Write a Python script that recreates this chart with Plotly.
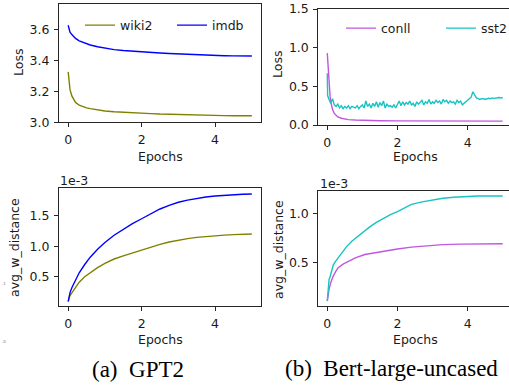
import plotly.graph_objects as go

# ---------------- data ----------------
gpt_loss_epochs = [0, 0.02, 0.05, 0.1, 0.15, 0.2, 0.3, 0.4, 0.5, 0.6, 0.8, 1.0, 1.25, 1.5, 1.75,
                   2.0, 2.25, 2.5, 2.75, 3.0, 3.25, 3.5, 3.75, 4.0, 4.25, 4.5, 4.75, 5.0]
wiki2_loss = [3.325, 3.26, 3.21, 3.17, 3.145, 3.128, 3.11, 3.100, 3.093, 3.088, 3.079, 3.073, 3.068,
              3.064, 3.061, 3.058, 3.056, 3.053, 3.051, 3.049, 3.047, 3.046, 3.044, 3.042, 3.043,
              3.042, 3.041, 3.042]
imdb_loss = [3.625, 3.60, 3.58, 3.565, 3.552, 3.54, 3.525, 3.515, 3.505, 3.498, 3.487, 3.477, 3.468,
             3.462, 3.457, 3.452, 3.448, 3.446, 3.443, 3.440, 3.438, 3.436, 3.433, 3.430, 3.429,
             3.428, 3.428, 3.427]

gpt_dist_epochs = [0, 0.02, 0.05, 0.1, 0.2, 0.3, 0.45, 0.6, 0.8, 1.0, 1.25, 1.5, 1.75, 2.0, 2.25,
                   2.5, 2.75, 3.0, 3.25, 3.5, 3.75, 4.0, 4.25, 4.5, 4.75, 5.0]
imdb_dist_e3 = [0.09, 0.17, 0.24, 0.32, 0.45, 0.565, 0.70, 0.82, 0.95, 1.06, 1.18, 1.28, 1.37, 1.45,
                1.53, 1.61, 1.67, 1.72, 1.755, 1.785, 1.807, 1.823, 1.836, 1.846, 1.852, 1.856]
wiki2_dist_e3 = [0.10, 0.15, 0.19, 0.235, 0.33, 0.41, 0.50, 0.57, 0.65, 0.72, 0.79, 0.84, 0.89, 0.94,
                 0.985, 1.03, 1.068, 1.10, 1.125, 1.145, 1.16, 1.17, 1.182, 1.19, 1.196, 1.20]

conll_loss_epochs = [0, 0.02, 0.05, 0.08, 0.1, 0.125, 0.15, 0.2, 0.25, 0.3, 0.4, 0.5, 0.6, 0.8, 1.0,
                     1.5, 2.0, 2.5, 3.0, 3.5, 4.0, 4.5, 5.0]
conll_loss = [0.93, 0.75, 0.52, 0.37, 0.30, 0.24, 0.20, 0.15, 0.12, 0.105, 0.087, 0.077, 0.07, 0.064,
              0.06, 0.055, 0.053, 0.052, 0.051, 0.051, 0.05, 0.05, 0.05]

sst2_loss_epochs = [0, 0.01] + [round(0.05 * i, 2) for i in range(1, 101)]
sst2_loss = [0.67, 0.38,
             0.33, 0.28, 0.34, 0.26, 0.24, 0.27, 0.22, 0.25, 0.21, 0.24,
             0.22, 0.25, 0.21, 0.24, 0.23, 0.22, 0.25, 0.21, 0.24, 0.26,
             0.22, 0.31, 0.24, 0.27, 0.22, 0.28, 0.24, 0.30, 0.23, 0.29,
             0.25, 0.31, 0.22, 0.27, 0.24, 0.25, 0.23, 0.26, 0.22, 0.27,
             0.31, 0.25, 0.30, 0.26, 0.29, 0.27, 0.31, 0.26, 0.28, 0.24,
             0.30, 0.27, 0.29, 0.32, 0.26, 0.30, 0.28, 0.33, 0.27, 0.30,
             0.28, 0.32, 0.29, 0.31, 0.27, 0.33, 0.30, 0.32, 0.28, 0.31,
             0.29, 0.30, 0.27, 0.32, 0.29, 0.31, 0.26, 0.28, 0.30, 0.31,
             0.33, 0.36, 0.43, 0.39, 0.35, 0.34, 0.33, 0.34, 0.34, 0.33,
             0.34, 0.345, 0.34, 0.35, 0.345, 0.35, 0.35, 0.355, 0.35, 0.355]

sst2_dist_epochs = [0, 0.02, 0.05, 0.08, 0.125, 0.17, 0.22, 0.3, 0.41, 0.55, 0.7, 0.85, 1.0, 1.2, 1.4,
                    1.6, 1.8, 2.0, 2.2, 2.4, 2.7, 3.0, 3.3, 3.6, 4.0, 4.3, 4.6, 5.0]
sst2_dist_e3 = [0.10, 0.22, 0.32, 0.35, 0.41, 0.47, 0.50, 0.54, 0.60, 0.66, 0.715, 0.76, 0.81, 0.86,
                0.91, 0.95, 0.99, 1.02, 1.06, 1.095, 1.12, 1.14, 1.157, 1.168, 1.177, 1.18, 1.18, 1.18]
conll_dist_epochs = [0, 0.02, 0.05, 0.1, 0.17, 0.25, 0.31, 0.45, 0.6, 0.8, 1.07, 1.4, 1.74, 2.0, 2.4,
                     2.8, 3.3, 3.8, 4.26, 4.6, 5.0]
conll_dist_e3 = [0.10, 0.16, 0.22, 0.29, 0.357, 0.41, 0.443, 0.48, 0.51, 0.545, 0.579, 0.60, 0.619,
                 0.635, 0.655, 0.668, 0.68, 0.686, 0.69, 0.69, 0.69]

x_ticks = [0, 2, 4]
gpt_loss_ticks = [3.0, 3.2, 3.4, 3.6]
bert_loss_ticks = [0.0, 0.5, 1.0, 1.5]
gpt_dist_ticks = [0.5, 1.0, 1.5]
bert_dist_ticks = [0.5, 1.0]

# ---------------- style ----------------
W, H = 509, 386
OLIVE = "#808000"
BLUE = "#0000ff"
VIOLET = "#c256e0"
CYAN = "#17c3c3"
AX = "#262626"
FONT = "DejaVu Sans"
FS = 12.5
LW = 1.4


def px_x(p):
    return p / W


def px_y(p):
    return 1 - p / H


fig = go.Figure()

fig.add_trace(go.Scatter(x=gpt_loss_epochs, y=wiki2_loss, name="wiki2", mode="lines",
                         line=dict(color=OLIVE, width=LW), xaxis="x", yaxis="y", legend="legend"))
fig.add_trace(go.Scatter(x=gpt_loss_epochs, y=imdb_loss, name="imdb", mode="lines",
                         line=dict(color=BLUE, width=LW), xaxis="x", yaxis="y", legend="legend"))
fig.add_trace(go.Scatter(x=conll_loss_epochs, y=conll_loss, name="conll", mode="lines",
                         line=dict(color=VIOLET, width=LW), xaxis="x2", yaxis="y2", legend="legend2"))
fig.add_trace(go.Scatter(x=sst2_loss_epochs, y=sst2_loss, name="sst2", mode="lines",
                         line=dict(color=CYAN, width=LW), xaxis="x2", yaxis="y2", legend="legend2"))
fig.add_trace(go.Scatter(x=gpt_dist_epochs, y=wiki2_dist_e3, mode="lines", showlegend=False,
                         line=dict(color=OLIVE, width=LW), xaxis="x3", yaxis="y3"))
fig.add_trace(go.Scatter(x=gpt_dist_epochs, y=imdb_dist_e3, mode="lines", showlegend=False,
                         line=dict(color=BLUE, width=LW), xaxis="x3", yaxis="y3"))
fig.add_trace(go.Scatter(x=conll_dist_epochs, y=conll_dist_e3, mode="lines", showlegend=False,
                         line=dict(color=VIOLET, width=LW), xaxis="x4", yaxis="y4"))
fig.add_trace(go.Scatter(x=sst2_dist_epochs, y=sst2_dist_e3, mode="lines", showlegend=False,
                         line=dict(color=CYAN, width=LW), xaxis="x4", yaxis="y4"))

common = dict(showline=True, linecolor=AX, linewidth=1, ticks="outside", ticklen=4,
              tickwidth=1, tickcolor=AX, showgrid=False, zeroline=False, automargin=False,
              tickfont=dict(family=FONT, size=FS, color="#1a1a1a"), ticklabelstandoff=2)

left_dom = [px_x(59), px_x(261)]
right_dom = [px_x(318.3), 1.0]

fig.update_layout(
    width=W, height=H, margin=dict(l=0, r=0, t=0, b=0, autoexpand=False),
    paper_bgcolor="white", plot_bgcolor="white",
    xaxis=dict(domain=left_dom, anchor="y", range=[-0.25, 5.25], tickvals=x_ticks,
               ticktext=[str(t) for t in x_ticks], mirror=True, **common),
    yaxis=dict(domain=[px_y(122.3), px_y(4.3)], anchor="x", range=[3.0, 3.76],
               tickvals=gpt_loss_ticks, ticktext=[f"{t:.1f}" for t in gpt_loss_ticks],
               mirror=True, **common),
    xaxis2=dict(domain=right_dom, anchor="y2", range=[-0.256, 5.18], tickvals=x_ticks,
                ticktext=[str(t) for t in x_ticks], mirror=True, **common),
    yaxis2=dict(domain=[px_y(125), px_y(9)], anchor="x2", range=[0, 1.5],
                tickvals=bert_loss_ticks, ticktext=[f"{t:.1f}" for t in bert_loss_ticks],
                mirror=False, **common),
    xaxis3=dict(domain=left_dom, anchor="y3", range=[-0.25, 5.25], tickvals=x_ticks,
                ticktext=[str(t) for t in x_ticks], mirror=True, **common),
    yaxis3=dict(domain=[px_y(306.3), px_y(188.3)], anchor="x3", range=[0.015, 1.949],
                tickvals=gpt_dist_ticks, ticktext=[f"{t:.1f}" for t in gpt_dist_ticks],
                mirror=True, **common),
    xaxis4=dict(domain=right_dom, anchor="y4", range=[-0.256, 5.18], tickvals=x_ticks,
                ticktext=[str(t) for t in x_ticks], mirror=True, **common),
    yaxis4=dict(domain=[px_y(306.3), px_y(191)], anchor="x4", range=[0.046, 1.232],
                tickvals=bert_dist_ticks, ticktext=[f"{t:.1f}" for t in bert_dist_ticks],
                mirror=False, **common),
    legend=dict(x=px_x(80), y=px_y(10.5), xanchor="left", yanchor="top", orientation="h",
                bgcolor="rgba(0,0,0,0)", borderwidth=0, entrywidth=47,
                font=dict(family=FONT, size=FS, color="#1a1a1a")),
    legend2=dict(x=px_x(341), y=px_y(13.5), xanchor="left", yanchor="top", orientation="h",
                 bgcolor="rgba(0,0,0,0)", borderwidth=0, entrywidth=55,
                 font=dict(family=FONT, size=FS, color="#1a1a1a")),
)

txt = dict(family=FONT, size=FS, color="#1a1a1a")
ann = []


def add(text, x, y, xanchor="center", yanchor="middle", angle=0, font=txt):
    ann.append(dict(text=text, x=px_x(x), y=px_y(y), xref="paper", yref="paper",
                    xanchor=xanchor, yanchor=yanchor, textangle=angle, showarrow=False, font=font))


add("Loss", 18, 63, angle=-90)
add("Loss", 278, 65, angle=-90)
add("avg_w_distance", 15, 248, angle=-90)
add("avg_w_distance", 278, 250, angle=-90)
add("Epochs", 160, 156)
add("Epochs", 415.7, 156)
add("Epochs", 160, 339.5)
add("Epochs", 415.7, 339.5)
add("1e-3", 58, 180, xanchor="left")
add("1e-3", 318, 184, xanchor="left")
cap = dict(family="Liberation Serif", size=23, color="black")
add("(a)\u2002GPT2", 137.5, 369.5, font=cap)
add("(b)\u2002Bert-large-uncased", 391, 368.5, font=cap)
tiny = dict(family=FONT, size=4, color="#777777")
add(".1", 0, 283, xanchor="left", font=tiny)
add(".0", 0, 341, xanchor="left", font=tiny)

fig.update_layout(annotations=ann)
fig.write_html("out.html", config={"displayModeBar": False},
               post_script="document.body.style.margin='0';document.body.style.overflow='hidden';")
